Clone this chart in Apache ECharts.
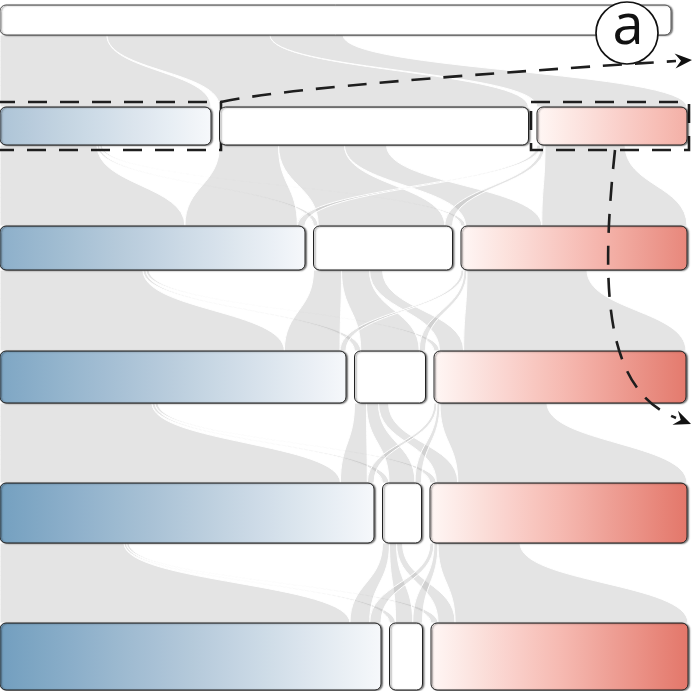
<!DOCTYPE html>
<html><head><meta charset="utf-8">
<script src="https://cdn.jsdelivr.net/npm/echarts@6/dist/echarts.min.js"></script>
<style>html,body{margin:0;padding:0;background:#fff}#c{width:692px;height:691px}</style>
</head><body><div id="c"></div>
<script>
// ---- data ----
const states = ['decrease', 'unchanged', 'increase'];
const levels = ['t0', 't1', 't2', 't3', 't4', 't5'];
const levelTop = [5, 107, 226, 351, 483, 623];
const levelBottom = [35, 145, 270, 403, 543, 690];
const startTotal = [671];
const blueValues = [211, 305, 346, 374, 381];
const whiteValues = [309, 139, 71, 39, 33];
const redValues = [150, 226, 252, 257, 257];
// flow counts: rows = source state, cols = target state (blue, white, red)
const flows0 = [[107, 163, 73]];
const flows1 = [[97, 2.5, 2.5], [59, 66, 42], [4, 4, 80]];
const flows2 = [[143, 3, 3], [28, 28, 13], [3, 3, 120]];
const flows3 = [[152, 3, 3], [12, 12, 10], [3, 3, 107]];
const flows4 = [[124, 2.5, 2.5], [7, 7, 6], [4, 4, 82]];

// ---- layout built from the data ----
const GAP = 8.5;
const nodes = [[{ x0: 0, x1: startTotal[0], state: -1, val: startTotal[0] }]];
for (let i = 0; i < blueValues.length; i++) {
  const v = [blueValues[i], whiteValues[i], redValues[i]];
  let x = 0; const arr = [];
  v.forEach((w, s) => { arr.push({ x0: x, x1: x + w, state: s, val: w }); x += w + GAP; });
  nodes.push(arr);
}
const maxBlue = Math.max(...blueValues), maxRed = Math.max(...redValues);
const barData = [];
nodes.forEach((arr, l) => arr.forEach(n => {
  let k = 0;
  if (n.state === 0) k = n.val / maxBlue;
  if (n.state === 2) k = n.val / maxRed;
  barData.push([n.x0, n.x1, levelTop[l], levelBottom[l], n.state, k]);
}));

const allFlows = [flows0, flows1, flows2, flows3, flows4];
const flowData = [];
allFlows.forEach((F, t) => {
  const src = nodes[t], tgt = nodes[t + 1];
  const topPos = src.map(n => n.x0);
  const botPos = tgt.map(n => n.x0);
  const colSum = tgt.map((n, b) => F.reduce((s, row) => s + row[b], 0));
  F.forEach((row, a) => row.forEach((f, b) => {
    const wTop = f;
    const wBot = f / colSum[b] * tgt[b].val;
    flowData.push([topPos[a], topPos[a] + wTop, botPos[b], botPos[b] + wBot, levelBottom[t], levelTop[t + 1]]);
    topPos[a] += wTop; botPos[b] += wBot;
  }));
});

// ---- colours ----
const blueStops = [[246, 248, 251], [180, 201, 218], [114, 158, 191]];
const redStops = [[255, 247, 245], [246, 186, 178], [227, 119, 106]];
function cs(stops, t) {
  t = Math.max(0, Math.min(1, t));
  const s = t * 2; const i = Math.min(1, Math.floor(s)); const f = s - i;
  const a = stops[i], b = stops[i + 1];
  return 'rgb(' + a.map((v, j) => Math.round(v + (b[j] - v) * f)).join(',') + ')';
}
function barFill(state, k) {
  if (state !== 0 && state !== 2) return '#ffffff';
  const st = [];
  for (let i = 0; i <= 10; i++) {
    const p = i / 10;
    st.push({ offset: p, color: state === 0 ? cs(blueStops, k * (1 - p)) : cs(redStops, k * p) });
  }
  return new echarts.graphic.LinearGradient(0, 0, 1, 0, st);
}

function renderFlow(params, api) {
  const y0 = api.value(4), y1 = api.value(5);
  const p0a = api.coord([api.value(0), y0]), p0b = api.coord([api.value(1), y0]);
  const p1a = api.coord([api.value(2), y1]), p1b = api.coord([api.value(3), y1]);
  const ym = (p0a[1] + p1a[1]) / 2;
  const d = 'M' + p0a[0] + ',' + p0a[1] + ' C' + p0a[0] + ',' + ym + ' ' + p1a[0] + ',' + ym + ' ' + p1a[0] + ',' + p1a[1] +
    ' L' + p1b[0] + ',' + p1b[1] + ' C' + p1b[0] + ',' + ym + ' ' + p0b[0] + ',' + ym + ' ' + p0b[0] + ',' + p0b[1] + ' Z';
  return { type: 'path', shape: { pathData: d }, style: { fill: 'rgba(150,150,150,0.26)', stroke: '#ffffff', lineWidth: 1 } };
}
function renderBar(params, api) {
  const a = api.coord([api.value(0), api.value(2)]);
  const b = api.coord([api.value(1), api.value(3)]);
  const state = api.value(4), k = api.value(5);
  return {
    type: 'rect',
    shape: { x: a[0], y: a[1], width: b[0] - a[0], height: b[1] - a[1], r: 6 },
    style: {
      fill: barFill(state, k), stroke: state === -1 ? '#555' : '#222', lineWidth: 1,
      shadowColor: 'rgba(0,0,0,0.45)', shadowBlur: 1.5, shadowOffsetX: 1.5, shadowOffsetY: 0.5
    }
  };
}

function arrow(tx, ty, ang) {
  const c = Math.cos(ang), s = Math.sin(ang);
  const pts = [[0, 0], [-17, -7.5], [-11, 0], [-17, 7.5]].map(([x, y]) => [tx + x * c - y * s, ty + x * s + y * c]);
  return { type: 'polygon', shape: { points: pts }, style: { fill: '#111' }, z: 12 };
}
const dash = { stroke: '#1e1e1e', lineWidth: 2.6, lineDash: [19, 13], fill: null };

const chart = echarts.init(document.getElementById('c'), null, { renderer: 'canvas' });
chart.setOption({
  animation: false,
  backgroundColor: '#ffffff',
  grid: { left: 0, right: 0, top: 0, bottom: 0 },
  xAxis: { type: 'value', min: 0, max: 692, show: false },
  yAxis: { type: 'value', min: 0, max: 691, inverse: true, show: false },
  series: [
    { type: 'custom', name: 'flows', z: 1, renderItem: renderFlow, data: flowData, silent: true },
    { type: 'custom', name: 'states', z: 4, renderItem: renderBar, data: barData, silent: true }
  ],
  graphic: [
    { type: 'rect', z: 3, shape: { x: -4, y: 102, width: 225, height: 48 }, style: Object.assign({}, dash) },
    { type: 'rect', z: 3, shape: { x: 531, y: 102, width: 158, height: 48 }, style: Object.assign({}, dash) },
    { type: 'circle', z: 10, shape: { cx: 627, cy: 33, r: 31 }, style: { fill: '#fff', stroke: '#111', lineWidth: 1.7 } },
    { type: 'text', z: 11, x: 628, y: 28, style: { text: 'a', fontSize: 56, fontFamily: 'Liberation Sans Narrow, Open Sans, sans-serif', fill: '#111', align: 'center', verticalAlign: 'middle' } },
    { type: 'bezierCurve', z: 11, shape: { x1: 221, y1: 102, cpx1: 300, cpy1: 85, x2: 676, y2: 61 }, style: Object.assign({}, dash) },
    arrow(692, 60, Math.atan2(-24, 378)),
    { type: 'bezierCurve', z: 11, shape: { x1: 615, y1: 150, cpx1: 600, cpy1: 290, cpx2: 605, cpy2: 390, x2: 676, y2: 418 }, style: Object.assign({}, dash) },
    arrow(691, 424, Math.atan2(29, 73))
  ]
});
</script>
</body></html>
